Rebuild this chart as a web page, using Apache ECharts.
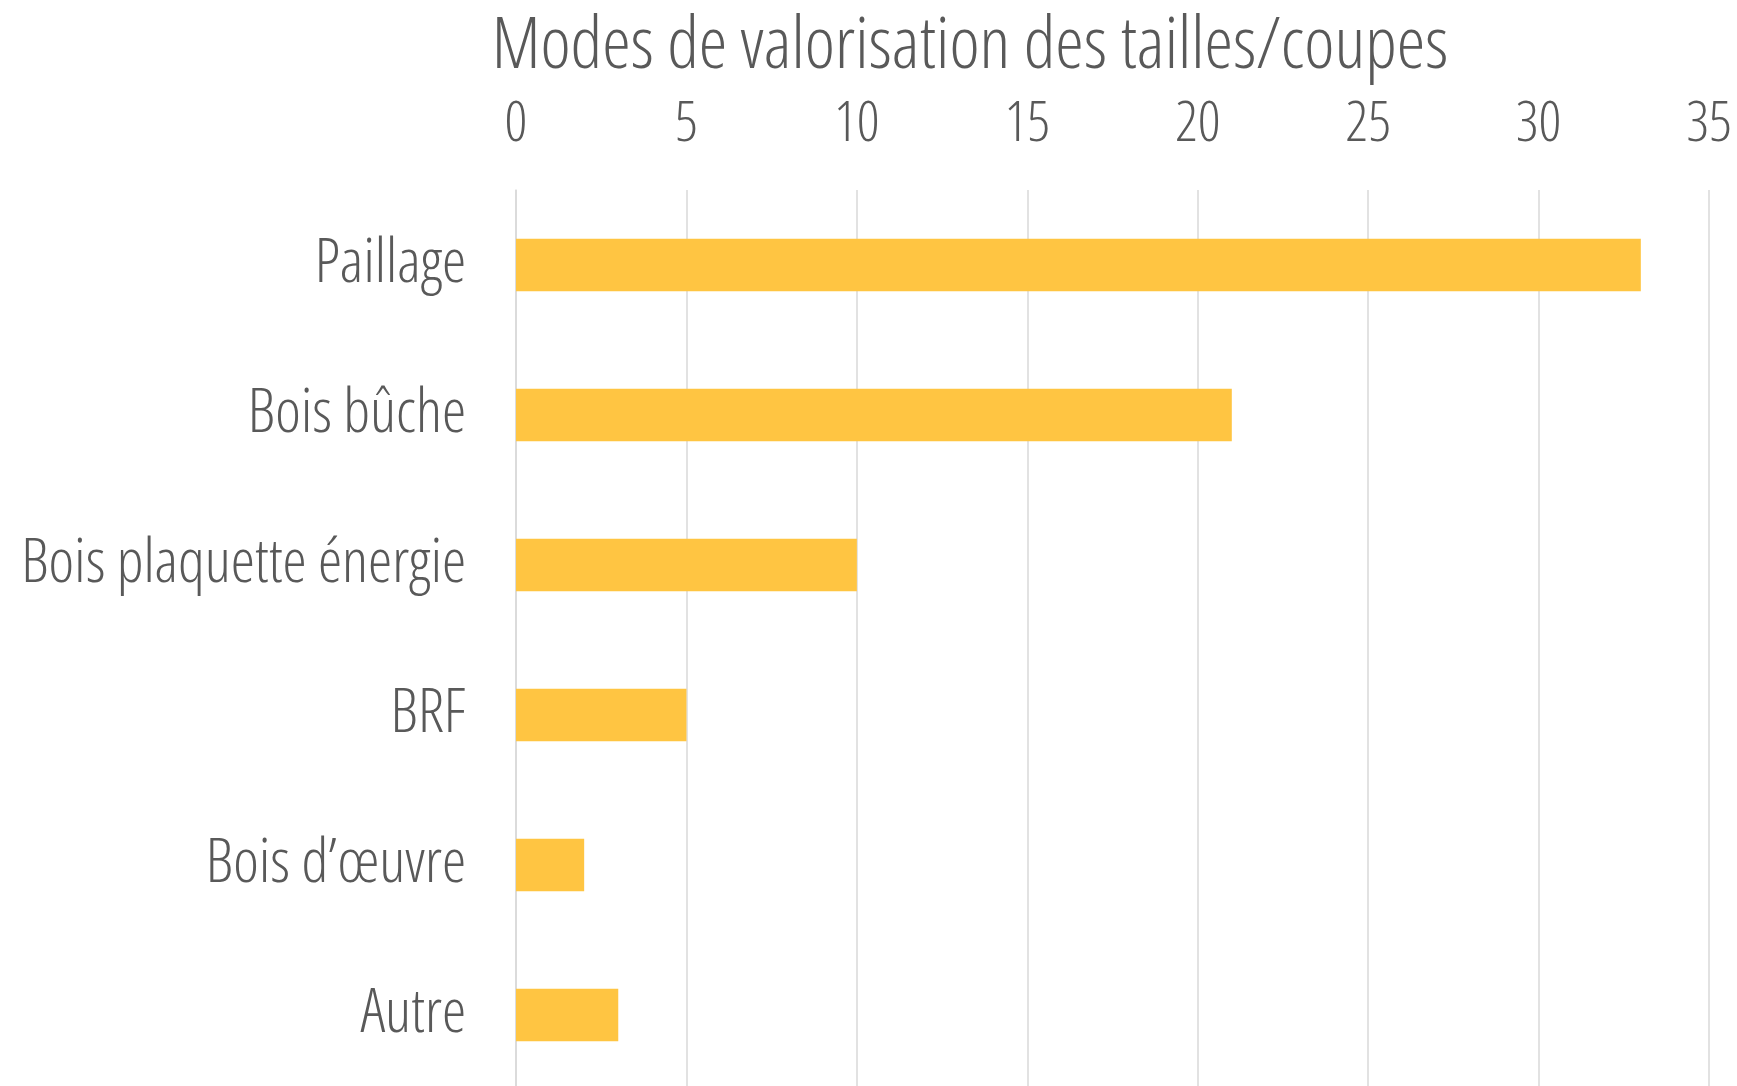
<!DOCTYPE html>
<html><head><meta charset="utf-8">
<script src="https://cdn.jsdelivr.net/npm/echarts@6/dist/echarts.min.js"></script>
<style>html,body{margin:0;padding:0;background:#fff}#c{width:1737px;height:1086px}</style>
</head><body><div id="c"></div>
<script>
const titleText = 'Modes de valorisation des tailles/coupes';
const categories = ['Paillage', 'Bois bûche', 'Bois plaquette énergie', 'BRF', "Bois d’œuvre", 'Autre'];
const values = [33, 21, 10, 5, 2, 3];
const FONT = '"Open Sans", "DejaVu Sans Condensed", sans-serif';
const WEIGHT = '300 condensed';
const chart = echarts.init(document.getElementById('c'), null, {renderer: 'canvas'});
chart.setOption({
  backgroundColor: '#ffffff',
  animation: false,
  title: {
    text: titleText, left: 965, top: 6, textAlign: 'center',
    textStyle: {fontFamily: FONT, fontSize: 72, fontWeight: WEIGHT, color: '#595959'}
  },
  grid: {left: 516, right: 28, top: 190, bottom: -4, outerBoundsMode: 'none'},
  xAxis: {
    type: 'value', position: 'top', min: 0, max: 35, interval: 5,
    axisLine: {show: false}, axisTick: {show: false},
    splitLine: {show: true, lineStyle: {color: '#d9d9d9', width: 1.5}},
    axisLabel: {margin: 37, fontFamily: FONT, fontSize: 56, fontWeight: WEIGHT, color: '#595959'}
  },
  yAxis: {
    type: 'category', data: categories, inverse: true,
    axisLine: {show: true, lineStyle: {color: '#d9d9d9', width: 1.5}},
    axisTick: {show: false},
    axisLabel: {margin: 50, fontFamily: FONT, fontWeight: WEIGHT, fontSize: 61, color: '#595959'}
  },
  series: [{
    type: 'bar', data: values, barWidth: '35%',
    itemStyle: {color: '#FFC542'}
  }]
});
</script></body></html>
